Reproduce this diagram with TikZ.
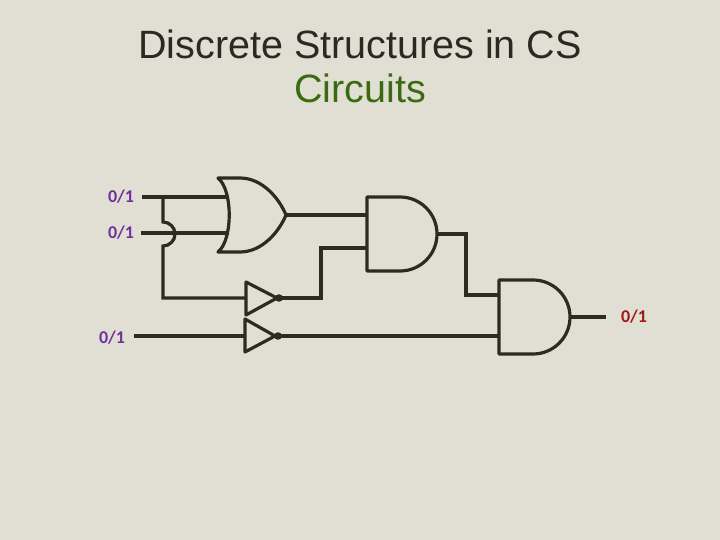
\documentclass[tikz,border=0pt]{standalone}
\usepackage{fontspec}
\setmainfont{Liberation Sans}
\newfontfamily\lblfont{Carlito}
\definecolor{bgc}{HTML}{E1DFD3}
\definecolor{inkc}{HTML}{2E2A20}
\definecolor{titlec}{HTML}{2B2A22}
\definecolor{greenc}{HTML}{3B6B11}
\definecolor{purplec}{HTML}{7030A0}
\definecolor{redc}{HTML}{A01818}
\begin{document}
\begin{tikzpicture}[x=1pt,y=-1pt,
  wire/.style={draw=inkc,line width=3.2pt,line join=miter},
  gate/.style={draw=inkc,line width=3.2pt,line join=round},
  bubble/.style={fill=inkc,draw=none},
  iolabel/.style={font=\lblfont\bfseries\fontsize{18}{20}\selectfont,text=purplec,anchor=base,inner sep=0pt},
  outlabel/.style={font=\lblfont\bfseries\fontsize{18}{20}\selectfont,text=redc,anchor=base,inner sep=0pt},
  titlestyle/.style={font=\fontsize{39.5}{44}\selectfont,anchor=base,inner sep=0pt}]
\fill[bgc] (0,0) rectangle (720,540);
\useasboundingbox (0,0) rectangle (720,540);
% titles
\node[titlestyle,text=titlec] (title) at (360,59) {Discrete Structures in CS};
\node[titlestyle,text=greenc] (subtitle) at (360,103) {Circuits};
% labels
\node[iolabel] (inA) at (121,203) {0/1};
\node[iolabel] (inB) at (121,239) {0/1};
\node[iolabel] (inC) at (112,343) {0/1};
\node[outlabel] (outL) at (634,322) {0/1};
% pin coordinates
\coordinate (aS) at (142,197);
\coordinate (bS) at (141,233);
\coordinate (cS) at (134,336);
\coordinate (split) at (163,197);
\coordinate (orA) at (228,197);
\coordinate (orB) at (229,233);
\coordinate (orOut) at (286,215);
\coordinate (n1In) at (246,298);
\coordinate (n1Out) at (279,298);
\coordinate (n2In) at (245,336);
\coordinate (n2Out) at (278,336);
\coordinate (and1A) at (367,215);
\coordinate (and1B) at (367,248);
\coordinate (and1Out) at (437,234);
\coordinate (and2A) at (499,295);
\coordinate (and2B) at (499,336);
\coordinate (and2Out) at (570,317);
\coordinate (outE) at (606,317);
% OR gate
\draw[gate] (218,178) -- (240,178) .. controls (262,178) and (279,198) .. (orOut)
  .. controls (279,232) and (262,252) .. (240,252) -- (218,252)
  .. controls (233,240) and (233,190) .. (218,178) -- cycle;
% AND gates
\draw[gate] (367,197) -- (400,197) arc[start angle=90,end angle=-90,radius=37pt] -- (367,271) -- cycle;
\draw[gate] (499,280) -- (533,280) arc[start angle=90,end angle=-90,radius=37pt] -- (499,354) -- cycle;
% NOT gates
\draw[gate] (246,282) -- (277,298) -- (246,315) -- cycle;
\fill[bubble] (n1Out) circle[radius=3.8pt];
\draw[gate] (245,319) -- (275,336) -- (245,352) -- cycle;
\fill[bubble] (n2Out) circle[radius=3.8pt];
% wires
\draw[wire] (aS) -- (orA);
\draw[wire] (bS) -- (orB);
\draw[wire] (split) -- (163,222) arc[start angle=90,end angle=-90,radius=12pt] -- (163,298) -- (n1In);
\draw[wire] (cS) -- (n2In);
\draw[wire] (orOut) -- (and1A);
\draw[wire] (n1Out) -- (321,298) -- (321,248) -- (and1B);
\draw[wire] (and1Out) -- (466,234) -- (466,295) -- (and2A);
\draw[wire] (n2Out) -- (and2B);
\draw[wire] (and2Out) -- (outE);
\end{tikzpicture}
\end{document}
